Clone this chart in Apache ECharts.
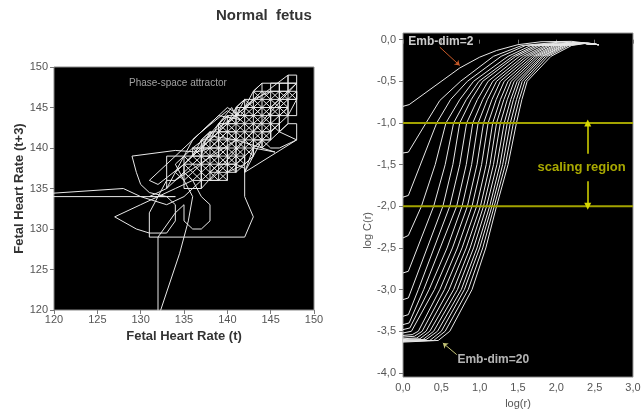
<!DOCTYPE html>
<html><head><meta charset="utf-8">
<script src="https://cdn.jsdelivr.net/npm/echarts@6/dist/echarts.min.js"></script>
<style>html,body{margin:0;padding:0;background:#fff}#c{width:644px;height:414px}</style>
</head><body><div id="c"></div>
<script>
// ---------- Left panel: phase-space attractor, points [FHR(t), FHR(t+3)] ----------
const attractorPoints = [
  [135,137],[134,136],[133,135],[131,134],[134,134],[100,134],
  [100,133],[128,135],[130,134],[133,133],[135,134],[136,135],
  [137,136],[136,136],[134,135],[132,134],[130,133],[127,131.5],
  [129.5,130],[131,129.5],[133,129.5],[134,131],[134,133],
  [133,134],[131,134.5],[130,135.5],[129.5,137],[129,139],
  [134,139.7],[136.5,139.5],[138,140],[139,141],[140,142],[141,141],
  [134,136],[135,137],[136,136],[137,137],[138,136],[139,137],[140,136],
  [140,137],[139,136],[138,137],[137,136],[136,137],[135,136],[134,137],
  [135,138],[136,137],[137,138],[138,137],[139,138],[140,137],[141,138],
  [141,137],[140,138],[139,137],[138,138],[137,137],[136,138],[135,137],
  [135,138],[136,139],[137,138],[138,139],[139,138],[140,139],[141,138],[142,139],
  [142,138],[141,139],[140,138],[139,139],[138,138],[137,139],[136,138],[135,139],
  [136,140],[137,139],[138,140],[139,139],[140,140],[141,139],[142,140],[143,139],
  [143,140],[142,139],[141,140],[140,139],[139,140],[138,139],[137,140],[136,139],
  [137,141],[138,140],[139,141],[140,140],[141,141],[142,140],[143,141],[144,140],
  [144,141],[143,140],[142,141],[141,140],[140,141],[139,140],[138,141],[137,140],
  [138,142],[139,141],[140,142],[141,141],[142,142],[143,141],[144,142],[145,141],
  [145,142],[144,141],[143,142],[142,141],[141,142],[140,141],[139,142],[138,141],
  [139,143],[140,142],[141,143],[142,142],[143,143],[144,142],[145,143],[146,142],
  [146,143],[145,142],[144,143],[143,142],[142,143],[141,142],[140,143],[139,142],
  [140,144],[141,143],[142,144],[143,143],[144,144],[145,143],[146,144],
  [145,144],[144,143],[143,144],[142,143],[141,144],[140,143],
  [141,145],[142,144],[143,145],[144,144],[145,145],[146,144],[147,145],
  [147,144],[146,145],[145,144],[144,145],[143,144],[142,145],[141,144],
  [142,146],[143,145],[144,146],[145,145],[146,146],[147,145],
  [147,146],[146,145],[145,146],[144,145],[143,146],[142,145],
  [143,147],[144,146],[145,147],[146,146],[147,147],[148,146],
  [148,147],[147,146],[146,147],[145,146],[144,147],[143,146],
  [135,138],[141,138],[142,139],[136,139],[136,140],[143,140],[144,141],[137,141],[138,142],[145,142],[146,143],[139,143],[140,144],[146,144],[147,145],[141,145],[142,146],[148,146],[148,147],[143,147],[144,148],[148,148],
  [137,135],[137,141],[138,142],[138,136],[139,136],[139,143],[140,144],[140,137],[141,137],[141,145],[142,146],[142,138],[143,139],[143,147],[144,148],[144,140],[145,141],[145,148],[146,148],[146,142],[147,143],[147,149],
  [136,140],[138,140],[140,140],[140,138],[140,136],[138,136],[137,136],[137,140],[139,142],[141,142],[141,139],[141,137],[143,139],[143,141],[145,141],[145,145],[143,145],[141,145],[141,143],[139,143],[139,139],[137,139],[137,135],[135,135],[135,139],[133,139],[133,135],
  [136,141],[140,145],[141.5,144],[143,146],
  [145,147],[147,147],[147,149],[148,149],[148,148],[146,148],[146,146],[148,146],[148,144],[146,144],[146,142],[148,141],[148,143],[147,143],[145,141],[144,141],[142,137],[142,138],[140,137],[138,137],
  [139,138],[141,138],[142,137.5],[142,134],[143,131.5],[142,129],[131,129],[131,132],[132,134],[133,136],[134,136],[135,137],[136,136],[137,134],[138,133],[138,131],[137,130],[136,130],[135,131],[135,133],[134,132],[132,129],[132,119],[134.5,127],[135.5,131],[136,134],[135,136],[134,138],[135,139],[137,139],[137.5,141],[139,143],[140.5,145],[141,144],[143,144],[144,145],[145,145],[146,146],[147,147],[148,148],[148,146],[147,144],[146,143],[145,142],[144,142],[144,141],[145,140],[146,140],[148,141],
  [142,137],[143,140],[145.5,139.5],[141,141],[138,141.5],[135,138],[132,135.5],[131,136],[134,139],[137,142],[140,144.6],[141.5,143.5],[139,144],[136,141]
];
const fhrTicks = [120, 125, 130, 135, 140, 145, 150];

// ---------- Right panel: correlation integrals log C(r) vs log(r), one curve per embedding dimension ----------
const embDims = [2,3,4,5,6,7,8,9,10,11,12,13,14,15,16,17,18,19,20];
const corrIntegral = [
  [[0,-0.80],[0.08,-0.78],[0.74,-0.34],[1.0,-0.21],[1.22,-0.13],[1.5,-0.06],[1.8,-0.025],[2.2,-0.02],[2.55,-0.06]],
  [[0,-1.36],[0.07,-1.35],[0.30,-1.0],[0.48,-0.73],[0.75,-0.5],[1.18,-0.2],[1.55,-0.07],[2.1,-0.025],[2.55,-0.06]],
  [[0,-1.89],[0.07,-1.87],[0.44,-1.0],[0.62,-0.72],[0.84,-0.5],[1.28,-0.2],[1.6,-0.07],[2.2,-0.03],[2.55,-0.06]],
  [[0,-2.38],[0.07,-2.35],[0.24,-2.0],[0.42,-1.5],[0.56,-1.0],[0.74,-0.72],[0.92,-0.5],[1.37,-0.2],[1.67,-0.07],[2.3,-0.04],[2.55,-0.06]],
  [[0,-2.80],[0.07,-2.78],[0.40,-2.0],[0.55,-1.5],[0.66,-1.0],[0.825,-0.72],[0.99,-0.5],[1.43,-0.2],[1.72,-0.07],[2.3,-0.04],[2.55,-0.06]],
  [[0,-3.12],[0.07,-3.10],[0.52,-2.0],[0.65,-1.5],[0.74,-1.0],[0.89,-0.72],[1.04,-0.5],[1.47,-0.2],[1.76,-0.07],[2.3,-0.04],[2.55,-0.06]],
  [[0,-3.32],[0.07,-3.30],[0.20,-3.0],[0.61,-2.0],[0.74,-1.5],[0.83,-1.0],[0.97,-0.72],[1.11,-0.5],[1.52,-0.2],[1.80,-0.07],[2.3,-0.04],[2.55,-0.06]],
  [[0,-3.42],[0.08,-3.40],[0.27,-3.0],[0.70,-2.0],[0.825,-1.5],[0.91,-1.0],[1.04,-0.72],[1.17,-0.5],[1.57,-0.2],[1.85,-0.07],[2.3,-0.04],[2.55,-0.06]],
  [[0,-3.48],[0.09,-3.46],[0.34,-3.0],[0.575,-2.5],[0.77,-2.0],[0.895,-1.5],[0.98,-1.0],[1.10,-0.72],[1.22,-0.5],[1.61,-0.2],[1.89,-0.07],[2.3,-0.04],[2.55,-0.06]],
  [[0,-3.52],[0.11,-3.50],[0.41,-3.0],[0.645,-2.5],[0.84,-2.0],[0.965,-1.5],[1.05,-1.0],[1.16,-0.72],[1.27,-0.5],[1.65,-0.2],[1.92,-0.07],[2.3,-0.04],[2.55,-0.06]],
  [[0,-3.55],[0.12,-3.54],[0.20,-3.5],[0.48,-3.0],[0.71,-2.5],[0.90,-2.0],[1.025,-1.5],[1.11,-1.0],[1.215,-0.72],[1.32,-0.5],[1.69,-0.2],[1.96,-0.07],[2.3,-0.04],[2.55,-0.06]],
  [[0,-3.57],[0.15,-3.56],[0.25,-3.5],[0.54,-3.0],[0.77,-2.5],[0.96,-2.0],[1.085,-1.5],[1.17,-1.0],[1.27,-0.72],[1.37,-0.5],[1.72,-0.2],[1.99,-0.07],[2.3,-0.04],[2.55,-0.06]],
  [[0,-3.59],[0.18,-3.58],[0.30,-3.5],[0.60,-3.0],[0.825,-2.5],[1.01,-2.0],[1.135,-1.5],[1.22,-1.0],[1.315,-0.72],[1.41,-0.5],[1.75,-0.2],[2.02,-0.07],[2.3,-0.04],[2.55,-0.06]],
  [[0,-3.60],[0.22,-3.59],[0.35,-3.5],[0.66,-3.0],[0.875,-2.5],[1.05,-2.0],[1.18,-1.5],[1.27,-1.0],[1.36,-0.72],[1.45,-0.5],[1.78,-0.2],[2.05,-0.07],[2.32,-0.04],[2.55,-0.06]],
  [[0,-3.61],[0.26,-3.60],[0.40,-3.5],[0.71,-3.0],[0.92,-2.5],[1.09,-2.0],[1.225,-1.5],[1.32,-1.0],[1.405,-0.72],[1.49,-0.5],[1.81,-0.2],[2.08,-0.07],[2.34,-0.04],[2.55,-0.06]],
  [[0,-3.61],[0.30,-3.60],[0.45,-3.5],[0.76,-3.0],[0.965,-2.5],[1.13,-2.0],[1.265,-1.5],[1.36,-1.0],[1.44,-0.72],[1.52,-0.5],[1.83,-0.2],[2.10,-0.07],[2.36,-0.04],[2.55,-0.06]],
  [[0,-3.62],[0.35,-3.61],[0.50,-3.5],[0.80,-3.0],[1.0,-2.5],[1.16,-2.0],[1.30,-1.5],[1.40,-1.0],[1.48,-0.72],[1.555,-0.5],[1.86,-0.2],[2.13,-0.07],[2.38,-0.04],[2.55,-0.06]],
  [[0,-3.62],[0.40,-3.61],[0.55,-3.5],[0.85,-3.0],[1.04,-2.5],[1.19,-2.0],[1.335,-1.5],[1.44,-1.0],[1.515,-0.72],[1.59,-0.5],[1.89,-0.2],[2.16,-0.07],[2.40,-0.04],[2.55,-0.06]],
  [[0,-3.63],[0.46,-3.61],[0.61,-3.5],[0.90,-3.0],[1.08,-2.5],[1.22,-2.0],[1.37,-1.5],[1.48,-1.0],[1.55,-0.72],[1.62,-0.5],[1.93,-0.2],[2.20,-0.07],[2.42,-0.04],[2.55,-0.06]]
];
const logCTicks = [-4, -3.5, -3, -2.5, -2, -1.5, -1, -0.5, 0];
const logRTicks = [0, 0.5, 1, 1.5, 2, 2.5, 3];
const scalingBounds = [-1, -2];
const scalingArrowX = 2.41;
const scalingArrowGap = [-1.37, -1.70];
const scalingText = {text: 'scaling region', at: [2.33, -1.53]};
const labelEmb2 = {text: 'Emb-dim=2', at: [0.07, -0.025], arrowFrom: [0.48, -0.09], arrowTo: [0.74, -0.31]};
const labelEmb20 = {text: 'Emb-dim=20', at: [0.71, -3.84], arrowFrom: [0.70, -3.78], arrowTo: [0.52, -3.64]};

const comma = v => (Math.round(v * 10) / 10).toFixed(1).replace('.', ',');
const FONT = '"Liberation Sans", Arial, sans-serif';
const NARROW = '"Liberation Sans Narrow", "Liberation Sans", Arial, sans-serif';

const chart = echarts.init(document.getElementById('c'), null, {renderer: 'canvas'});

const series = [];
series.push({
  type: 'line', xAxisIndex: 0, yAxisIndex: 0, showSymbol: false, symbol: 'none', clip: true,
  data: attractorPoints,
  lineStyle: {color: '#e8e8e8', width: 1}, z: 3, silent: true
});
series.push({
  type: 'scatter', xAxisIndex: 0, yAxisIndex: 0, symbolSize: 0, silent: true,
  data: [[134.3, 148]],
  label: {show: true, position: 'inside', formatter: 'Phase-space attractor', color: '#c8c8c8', fontSize: 10, fontFamily: FONT}
});
corrIntegral.forEach((pts, i) => {
  series.push({
    type: 'line', name: 'Emb-dim=' + embDims[i], xAxisIndex: 1, yAxisIndex: 1,
    showSymbol: false, symbol: 'none', data: pts,
    lineStyle: {color: '#e8e8e8', width: 1}, z: 3, silent: true
  });
});
scalingBounds.forEach(b => {
  series.push({
    type: 'line', xAxisIndex: 1, yAxisIndex: 1, showSymbol: false, symbol: 'none',
    data: [[0, b], [3, b]], lineStyle: {color: '#a3a300', width: 2}, z: 4, silent: true
  });
});
series.push({
  type: 'lines', coordinateSystem: 'cartesian2d', xAxisIndex: 1, yAxisIndex: 1,
  symbol: ['none', 'triangle'], symbolSize: 7, silent: true, z: 5,
  lineStyle: {color: '#d8d800', width: 1.5, opacity: 1},
  data: [
    {coords: [[scalingArrowX, scalingArrowGap[0]], [scalingArrowX, scalingBounds[0]]]},
    {coords: [[scalingArrowX, scalingArrowGap[1]], [scalingArrowX, scalingBounds[1]]]}
  ]
});
series.push({
  type: 'lines', coordinateSystem: 'cartesian2d', xAxisIndex: 1, yAxisIndex: 1,
  symbol: ['none', 'arrow'], symbolSize: 5, silent: true, z: 5,
  lineStyle: {color: '#c85a28', width: 1, opacity: 1},
  data: [{coords: [labelEmb2.arrowFrom, labelEmb2.arrowTo]}]
});
series.push({
  type: 'lines', coordinateSystem: 'cartesian2d', xAxisIndex: 1, yAxisIndex: 1,
  symbol: ['none', 'arrow'], symbolSize: 5, silent: true, z: 5,
  lineStyle: {color: '#c8c878', width: 1, opacity: 1},
  data: [{coords: [labelEmb20.arrowFrom, labelEmb20.arrowTo]}]
});
series.push({
  type: 'scatter', xAxisIndex: 1, yAxisIndex: 1, symbolSize: 0, silent: true, z: 6,
  data: [
    {value: labelEmb2.at, label: {formatter: labelEmb2.text, color: '#ffffff'}},
    {value: labelEmb20.at, label: {formatter: labelEmb20.text, color: '#e0e0e0'}}
  ],
  label: {show: true, position: 'right', distance: 0, fontSize: 12, fontWeight: 'bold', fontFamily: FONT}
});
series.push({
  type: 'scatter', xAxisIndex: 1, yAxisIndex: 1, symbolSize: 0, silent: true, z: 6,
  data: [scalingText.at],
  label: {show: true, position: 'inside', formatter: scalingText.text, color: '#d2d200', fontSize: 13, fontWeight: 'bold', fontFamily: FONT}
});

const tickStyle = {show: true, inside: false, length: 4, lineStyle: {color: '#777'}};
const option = {
  animation: false,
  backgroundColor: '#ffffff',
  graphic: [
    {type: 'text', left: 216, top: 8, style: {text: 'Normal  fetus', font: 'bold 15px ' + FONT, fill: '#333'}},
    {type: 'text', left: 362, top: 212, rotation: Math.PI / 2, style: {text: 'log C(r)', font: '11px ' + FONT, fill: '#555'}}
  ],
  grid: [
    {left: 54, top: 67, width: 260, height: 243, show: true, backgroundColor: '#000', borderColor: '#888', borderWidth: 1},
    {left: 403, top: 33, width: 230, height: 352, show: true, backgroundColor: '#000', borderColor: '#999', borderWidth: 1}
  ],
  xAxis: [
    {gridIndex: 0, type: 'value', min: 120, max: 150, interval: 5,
     axisLine: {show: false}, axisTick: tickStyle, splitLine: {show: false},
     axisLabel: {color: '#555', fontSize: 11, fontFamily: NARROW, margin: 4, customValues: fhrTicks},
     name: 'Fetal Heart Rate (t)', nameLocation: 'middle', nameGap: 17,
     nameTextStyle: {color: '#333', fontSize: 13, fontWeight: 'bold', fontFamily: FONT}},
    {gridIndex: 1, type: 'value', min: 0, max: 3, interval: 0.5,
     axisLine: {show: false}, axisTick: tickStyle, splitLine: {show: false},
     axisLabel: {color: '#555', fontSize: 11, fontFamily: NARROW, margin: 5, formatter: comma, customValues: logRTicks},
     name: 'log(r)', nameLocation: 'middle', nameGap: 18,
     nameTextStyle: {color: '#555', fontSize: 11, fontFamily: FONT}}
  ],
  yAxis: [
    {gridIndex: 0, type: 'value', min: 120, max: 150, interval: 5,
     axisLine: {show: false}, axisTick: tickStyle, splitLine: {show: false},
     axisLabel: {color: '#555', fontSize: 11, fontFamily: NARROW, margin: 6, customValues: fhrTicks},
     name: 'Fetal Heart Rate (t+3)', nameLocation: 'middle', nameGap: 27, nameRotate: 90,
     nameTextStyle: {color: '#333', fontSize: 13, fontWeight: 'bold', fontFamily: FONT}},
    {gridIndex: 1, type: 'value', min: -4.05, max: 0.08,
     axisLine: {show: false},
     axisTick: Object.assign({}, tickStyle, {customValues: logCTicks}),
     splitLine: {show: false},
     axisLabel: {color: '#555', fontSize: 11, fontFamily: FONT, margin: 7, customValues: logCTicks, formatter: comma}}
  ],
  series: series
};
chart.setOption(option);
</script>
</body></html>
